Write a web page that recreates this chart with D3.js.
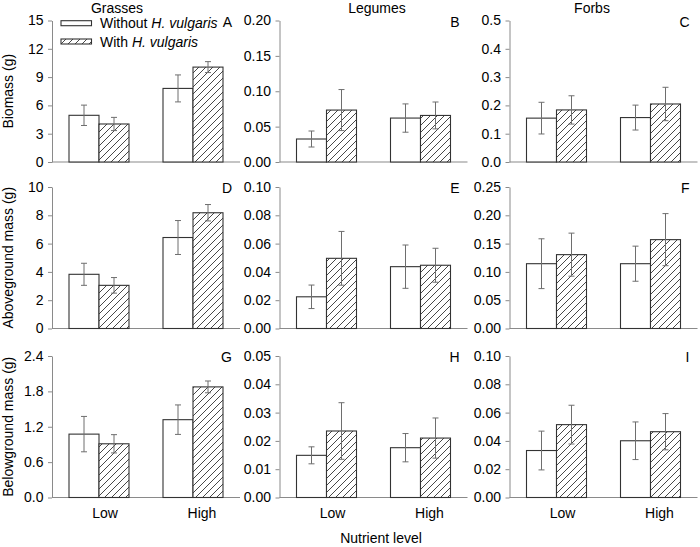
<!DOCTYPE html>
<html><head><meta charset="utf-8">
<script src="https://cdn.jsdelivr.net/npm/d3@7"></script>
<style>body{margin:0;background:#fff}svg{display:block;font-family:"Liberation Sans",Arial,sans-serif}</style>
</head><body>
<svg id="c" width="700" height="547"></svg>
<script>
const groups = ["Low", "High"];
const series = ["Without", "With"];
const functionalGroups = ["Grasses", "Legumes", "Forbs"];
const measures = ["Biomass (g)", "Aboveground mass (g)", "Belowground mass (g)"];
const panelLetters = [["A","B","C"],["D","E","F"],["G","H","I"]];
// values: [functional group][nutrient level][series]
const biomassMean = [[[4.95,4.03],[7.80,10.06]], [[0.0325,0.0734],[0.0621,0.0658]], [[0.155,0.184],[0.157,0.205]]];
const biomassErr  = [[[1.08,0.70],[1.43,0.58]], [[0.0113,0.029],[0.020,0.019]], [[0.056,0.050],[0.044,0.059]]];
const abovegroundMean = [[[3.83,3.05],[6.43,8.18]], [[0.0224,0.0496],[0.0437,0.0447]], [[0.1145,0.1305],[0.1145,0.157]]];
const abovegroundErr  = [[[0.78,0.55],[1.20,0.58]], [[0.0083,0.019],[0.0153,0.012]], [[0.044,0.038],[0.031,0.046]]];
const belowgroundMean = [[[1.075,0.911],[1.32,1.876]], [[0.0149,0.0235],[0.0176,0.021]], [[0.0332,0.0515],[0.0401,0.0465]]];
const belowgroundErr  = [[[0.30,0.155],[0.25,0.10]], [[0.003,0.010],[0.005,0.0071]], [[0.0137,0.0137],[0.0133,0.0128]]];
const yTicks = [
  [[0,3,6,9,12,15], [0,0.05,0.10,0.15,0.20], [0,0.1,0.2,0.3,0.4,0.5]],
  [[0,2,4,6,8,10], [0,0.02,0.04,0.06,0.08,0.10], [0,0.05,0.10,0.15,0.20,0.25]],
  [[0,0.6,1.2,1.8,2.4], [0,0.01,0.02,0.03,0.04,0.05], [0,0.02,0.04,0.06,0.08,0.10]]
];
const tickDecimals = [[0,2,1],[0,2,2],[1,2,2]];
const means = [biomassMean, abovegroundMean, belowgroundMean];
const errs = [biomassErr, abovegroundErr, belowgroundErr];

const svg = d3.select("#c");
const colX = [52, 279.5, 509.5], panelW = 188;
const rowTop = [20.5, 187, 356], panelH = 141.5;
const axisCol = "#8a8a8a", errCol = "#6e6e6e", barStroke = "#333";

const defs = svg.append("defs");
const pat = defs.append("pattern").attr("id","hatch").attr("patternUnits","userSpaceOnUse")
  .attr("width",7).attr("height",7);
pat.append("rect").attr("width",7).attr("height",7).attr("fill","#fff");
pat.append("path").attr("d","M0,7L7,0M-1,1L1,-1M6,8L8,6").attr("stroke","#333").attr("stroke-width",0.9);

const fill = s => s === "With" ? "url(#hatch)" : "#fff";

for (let r = 0; r < 3; r++) {
  for (let c = 0; c < 3; c++) {
    const x0 = colX[c], top = rowTop[r], bottom = top + panelH;
    const ticks = yTicks[r][c];
    const y = d3.scaleLinear().domain([0, d3.max(ticks)]).range([bottom, top]);
    const xb = d3.scaleBand().domain(groups).range([x0, x0 + panelW]);
    const xs = d3.scaleBand().domain(series).range([17, 77]);
    const g = svg.append("g");
    g.append("line").attr("x1", x0).attr("x2", x0 + panelW).attr("y1", y(0)).attr("y2", y(0))
      .attr("stroke", axisCol).attr("stroke-width", 1.2);
    const ax = g.append("g").attr("transform", `translate(${x0},0)`)
      .call(d3.axisLeft(y).tickValues(ticks).tickSize(4).tickSizeOuter(0).tickPadding(4.5)
        .tickFormat(d3.format("." + tickDecimals[r][c] + "f")));
    ax.select(".domain").attr("stroke", axisCol);
    ax.selectAll(".tick line").attr("stroke", axisCol);
    ax.selectAll(".tick text").attr("font-size", 14).attr("fill", "#000")
      .attr("font-family", '"Liberation Sans",Arial,sans-serif');
    const m = means[r][c], e = errs[r][c];
    groups.forEach((gr, gi) => {
      series.forEach((s, si) => {
        const bx = xb(gr) + xs(s), bw = xs.bandwidth(), v = m[gi][si], ev = e[gi][si];
        g.append("rect").attr("x", bx).attr("y", y(v)).attr("width", bw).attr("height", y(0) - y(v))
          .attr("fill", fill(s)).attr("stroke", barStroke).attr("stroke-width", 1.1);
        const cx = bx + bw / 2;
        g.append("line").attr("x1", cx).attr("x2", cx).attr("y1", y(v + ev)).attr("y2", y(v - ev))
          .attr("stroke", errCol).attr("stroke-width", 1);
        [v + ev, v - ev].forEach(t => g.append("line").attr("x1", cx - 3).attr("x2", cx + 3)
          .attr("y1", y(t)).attr("y2", y(t)).attr("stroke", errCol).attr("stroke-width", 1));
      });
      if (r === 2) {
        g.append("text").attr("x", xb(gr) + xb.bandwidth() / 2 + (gi === 0 ? 6 : 9)).attr("y", 517.5)
          .attr("text-anchor", "middle").attr("font-size", 14).text(gr);
      }
    });
    g.append("text").attr("x", x0 + 180).attr("y", top + 6).attr("text-anchor", "end")
      .attr("font-size", 14).text(panelLetters[r][c]);
  }
  svg.append("text").attr("transform", `translate(13,${rowTop[r] + panelH / 2}) rotate(-90)`)
    .attr("text-anchor", "middle").attr("font-size", 14).text(measures[r]);
}
const titleX = [117, 377, 592], titleY = [12.5, 13, 13];
functionalGroups.forEach((t, i) => svg.append("text").attr("x", titleX[i]).attr("y", titleY[i])
  .attr("text-anchor", "middle").attr("font-size", 14).text(t));
svg.append("text").attr("x", 381).attr("y", 543).attr("text-anchor", "middle").attr("font-size", 14).text("Nutrient level");

// legend
const leg = svg.append("g");
series.forEach((s, i) => {
  const ly = 20.7 + i * 18.3;
  leg.append("rect").attr("x", 61).attr("y", ly).attr("width", 30.5).attr("height", 5)
    .attr("fill", fill(s)).attr("stroke", barStroke).attr("stroke-width", 1.1);
  const t = leg.append("text").attr("x", 100).attr("y", ly + 7.5).attr("font-size", 14);
  t.append("tspan").text(s + " ");
  t.append("tspan").attr("font-style", "italic").text("H. vulgaris");
});
</script>
</body></html>
